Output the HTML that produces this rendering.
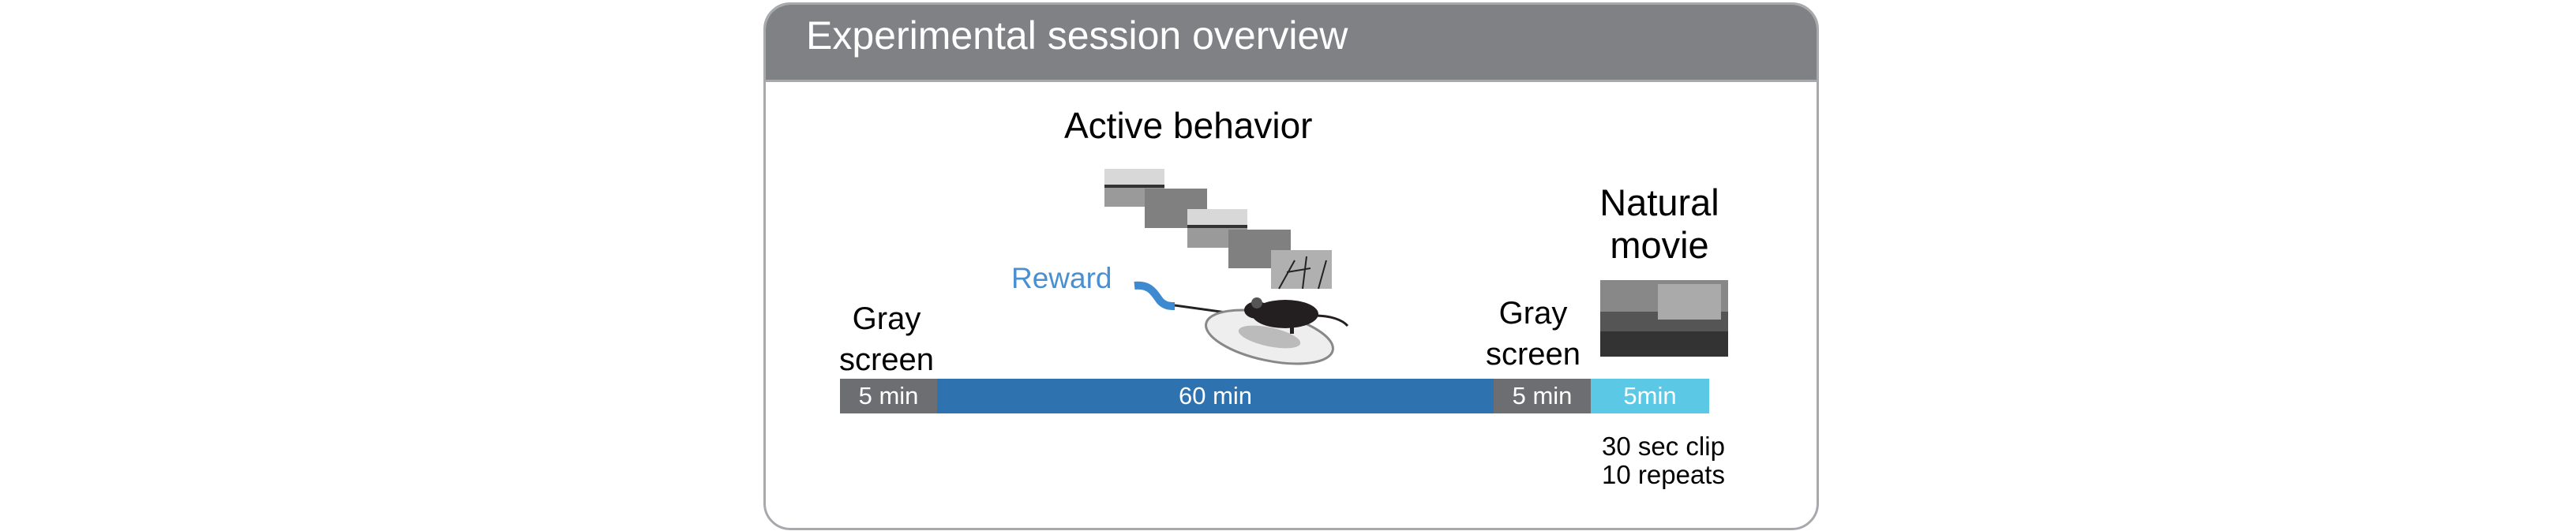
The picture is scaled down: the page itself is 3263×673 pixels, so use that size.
<!DOCTYPE html>
<html><head><meta charset="utf-8"><style>
html,body{margin:0;padding:0;background:#fff;}
body{width:3263px;height:673px;position:relative;overflow:hidden;font-family:"Liberation Sans",Arial,sans-serif;}
.t{position:absolute;white-space:nowrap;line-height:1;}
</style></head><body>
<div style="position:absolute;left:967px;top:3px;width:1331px;height:663px;border:3px solid #a7a9ac;border-radius:34px;overflow:hidden;background:#fff;">
  <div style="position:absolute;left:0;top:0;width:100%;height:95px;background:#808184;border-bottom:3px solid #a7a9ac;"></div>
</div>
<div class="t" style="left:1021px;top:20px;font-size:50px;color:#fff;">Experimental session overview</div>

<div class="t" style="left:1348px;top:136px;font-size:46px;color:#000;">Active behavior</div>
<div class="t" style="left:2012px;top:230px;width:180px;text-align:center;font-size:47px;line-height:54px;color:#000;white-space:normal;">Natural<br>movie</div>
<div class="t" style="left:1043px;top:378px;width:160px;text-align:center;font-size:40px;line-height:52px;color:#000;white-space:normal;">Gray<br>screen</div>
<div class="t" style="left:1862px;top:371px;width:160px;text-align:center;font-size:40px;line-height:52px;color:#000;white-space:normal;">Gray<br>screen</div>
<div class="t" style="left:1281px;top:334px;font-size:37px;color:#4a90d0;">Reward</div>
<div class="t" style="left:2007px;top:548px;width:200px;text-align:center;font-size:33px;line-height:36px;color:#000;white-space:normal;">30 sec clip<br>10 repeats</div>

<svg width="3263" height="673" style="position:absolute;left:0;top:0;">
  <g>
    <rect x="1399" y="214" width="76" height="48" fill="#9a9a9a"/>
    <rect x="1399" y="214" width="76" height="22" fill="#d8d8d8"/>
    <rect x="1399" y="234" width="76" height="4" fill="#333"/>
    <rect x="1450" y="239" width="79" height="50" fill="#808080"/>
    <rect x="1504" y="265" width="76" height="49" fill="#9a9a9a"/>
    <rect x="1504" y="265" width="76" height="22" fill="#d8d8d8"/>
    <rect x="1504" y="285" width="76" height="4" fill="#333"/>
    <rect x="1556" y="291" width="79" height="49" fill="#808080"/>
    <rect x="1610" y="317" width="77" height="49" fill="#b0b0b0"/>
    <path d="M1620 366 L1640 330 M1650 366 L1655 325 M1670 366 L1680 330 M1630 345 L1660 340" stroke="#222" stroke-width="2"/>
  </g>
  <path d="M1437 362 C1458 360 1462 372 1470 382 C1476 388 1482 388 1488 388" stroke="#3e8ad0" stroke-width="10" fill="none"/>
  <line x1="1488" y1="387" x2="1582" y2="400" stroke="#222" stroke-width="3"/>
  <g transform="rotate(12 1608 427)">
    <ellipse cx="1608" cy="427" rx="82" ry="30" fill="#eee" stroke="#888" stroke-width="3"/>
    <ellipse cx="1608" cy="427" rx="40" ry="12" fill="#bbb"/>
  </g>
  <g fill="#231f20">
    <ellipse cx="1628" cy="398" rx="42" ry="18"/>
    <ellipse cx="1592" cy="393" rx="16" ry="11"/>
    <circle cx="1592" cy="384" r="7" fill="#555"/>
    <path d="M1665 400 C1685 400 1700 405 1707 413" stroke="#231f20" stroke-width="3" fill="none"/>
    <rect x="1634" y="405" width="5" height="18"/>
  </g>
  <g>
    <rect x="2027" y="355" width="162" height="97" fill="#555"/>
    <rect x="2027" y="355" width="162" height="40" fill="#888"/>
    <rect x="2100" y="360" width="80" height="45" fill="#aaa"/>
    <rect x="2027" y="420" width="162" height="32" fill="#333"/>
  </g>
</svg>

<div style="position:absolute;left:1064px;top:480px;height:44px;width:1104px;">
  <div style="position:absolute;left:0;top:0;width:123px;height:44px;background:#6d6e71;color:#fff;font-size:31px;line-height:44px;text-align:center;">5 min</div>
  <div style="position:absolute;left:123px;top:0;width:705px;height:44px;background:#2e72b0;color:#fff;font-size:31px;line-height:44px;text-align:center;">60 min</div>
  <div style="position:absolute;left:828px;top:0;width:123px;height:44px;background:#6d6e71;color:#fff;font-size:31px;line-height:44px;text-align:center;">5 min</div>
  <div style="position:absolute;left:951px;top:0;width:150px;height:44px;background:#5bc8e6;color:#fff;font-size:31px;line-height:44px;text-align:center;">5min</div>
</div>
</body></html>
